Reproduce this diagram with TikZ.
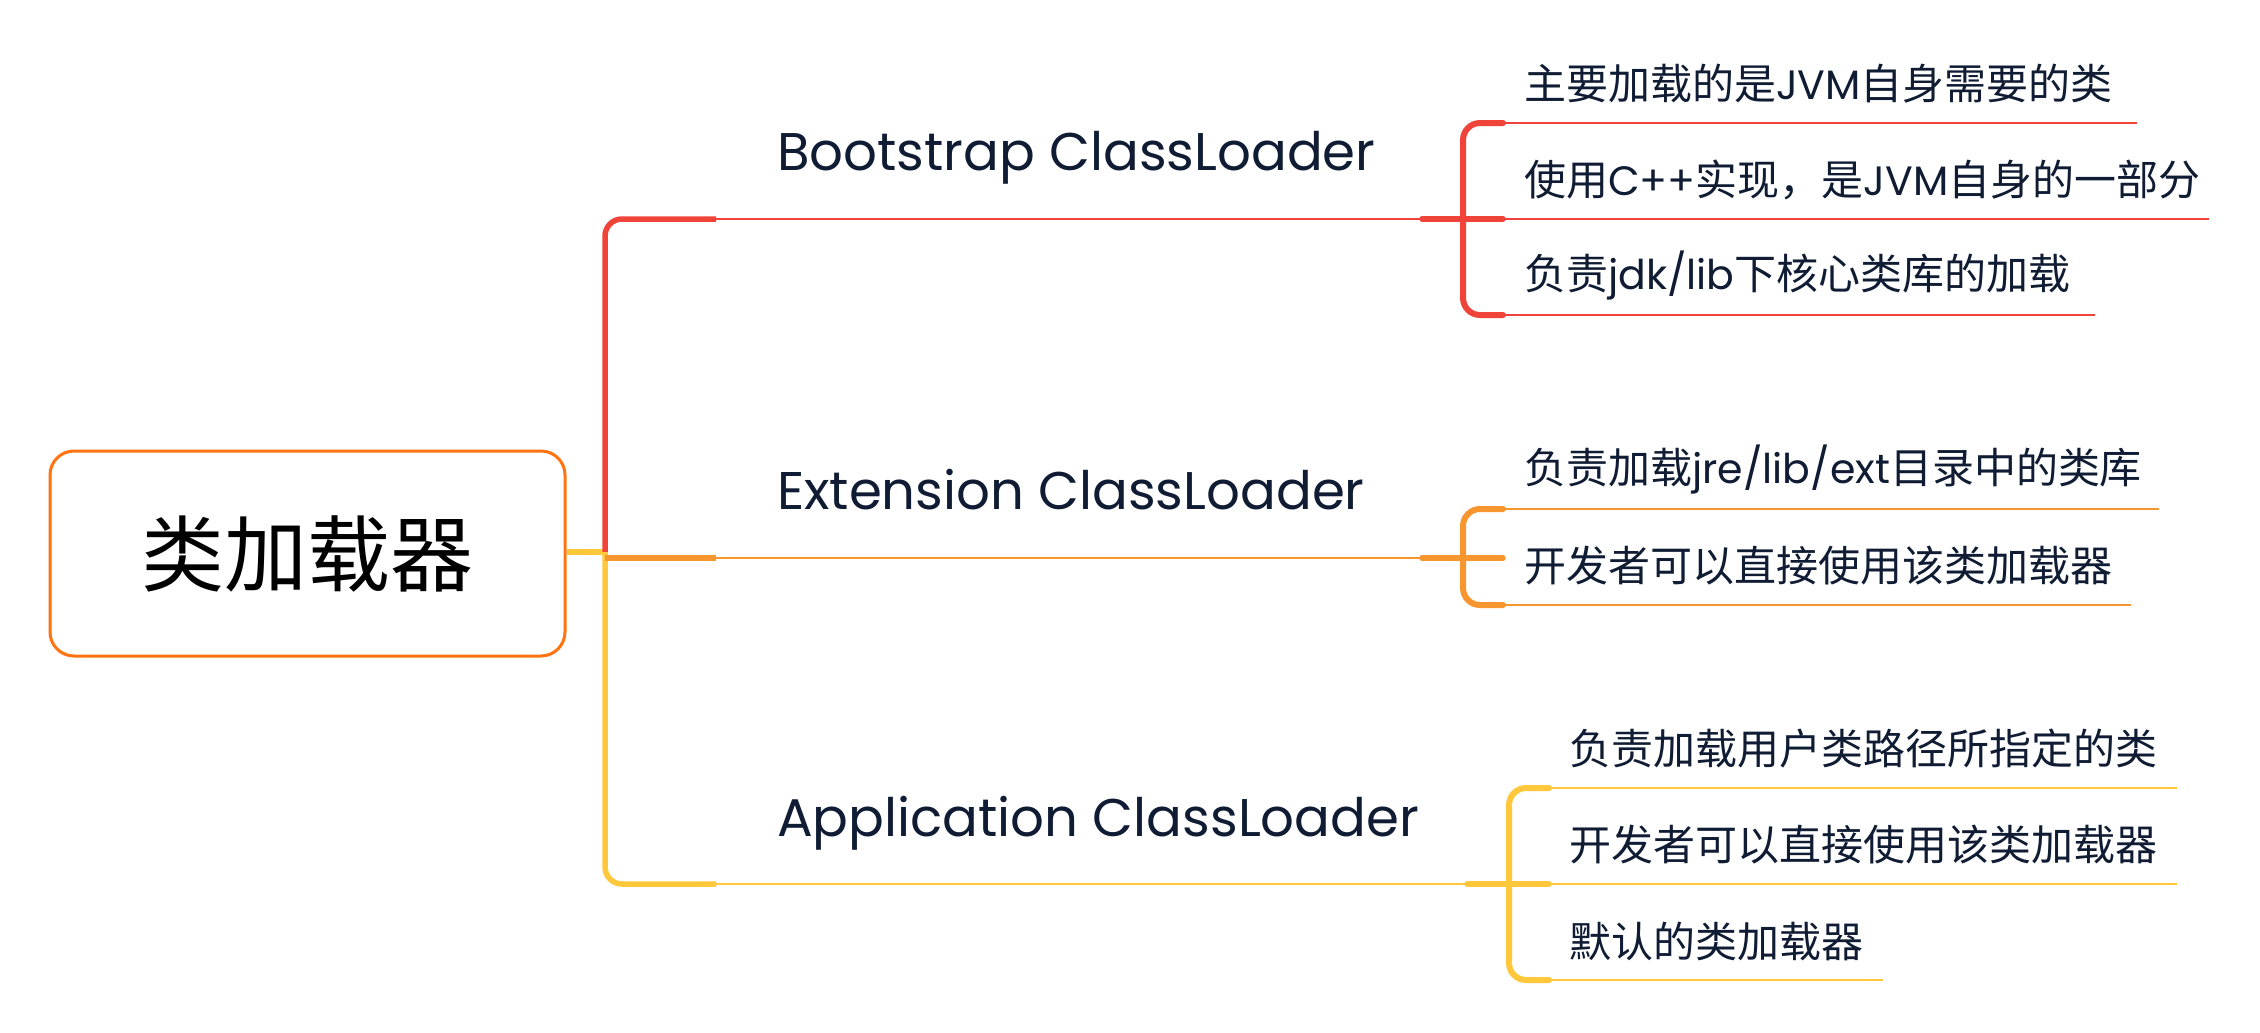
\documentclass[tikz,border=0pt]{standalone}
\usepackage{fontspec}
\setmainfont{Poppins}
\newfontfamily\cjk{Noto Sans CJK SC}
\newfontfamily\lat{Poppins}
\definecolor{cred}{HTML}{F0443A}
\definecolor{corange}{HTML}{F7962E}
\definecolor{cyellow}{HTML}{FFC73A}
\definecolor{cbox}{HTML}{FF7410}
\definecolor{ctext}{HTML}{0F1C33}
\begin{document}
\begin{tikzpicture}[x=1pt,y=-1pt,
  thickln/.style={line width=5.5pt,line cap=round},
  thinln/.style={line width=2.6pt},
  lvone/.style={anchor=base west,inner sep=0pt,text=ctext,font=\lat\fontsize{53}{62}\selectfont},
  item/.style={anchor=west,inner sep=0pt,text=ctext,font=\cjk\fontsize{42}{50}\selectfont},
  itemlat/.style={font=\lat\fontsize{41}{50}\selectfont},
  rootbox/.style={draw=cbox,line width=3pt,rounded corners=24pt,fill=white,minimum width=515pt,minimum height=205pt,inner sep=0pt,font=\cjk\fontsize{83}{100}\selectfont}]
\fill[white] (0,0) rectangle (2260,1033);
\useasboundingbox (0,0) rectangle (2260,1033);

% root
\node[rootbox] (root) at (307.5,553.5) {类加载器};

% trunk coordinates
\coordinate (T) at (605,552);
\coordinate (To) at (605,558);
\coordinate (Ra) at (716,219);
\coordinate (Oa) at (716,558);
\coordinate (Ya) at (716,884);
\coordinate (Rb) at (1422,219);
\coordinate (Ob) at (1422,558);
\coordinate (Yb) at (1467,884);

% level one branches
\draw[cyellow,line width=5.5pt] (root.east |- T) -- (T);
\draw[cred,line width=5.5pt,rounded corners=17pt] (T) |- (Ra);
\draw[cyellow,line width=5.5pt,rounded corners=17pt] (T) |- (Ya);
\draw[corange,line width=5.5pt] (To) -- (Oa);
\draw[cred,thinln] (Ra) -- (Rb);
\draw[corange,thinln] (Oa) -- (Ob);
\draw[cyellow,thinln] (Ya) -- (Yb);

\node[lvone] (b) at (777,170) {Bootstrap ClassLoader};
\node[lvone] (e) at (777,509) {Extension ClassLoader};
\node[lvone] (a) at (777,836) {Application ClassLoader};

% ---------- red group ----------
\coordinate (Rj) at (1503,219);
\coordinate (R1s) at (1503,123);
\coordinate (R3s) at (1503,315);
\coordinate (R1e) at (2137,123);
\coordinate (R2e) at (2209,219);
\coordinate (R3e) at (2095,315);
\draw[cred,thickln] (Rb) -- (Rj);
\draw[cred,line width=6pt,rounded corners=17pt,line cap=round] (R1s) -- (1463,123) -- (1463,315) -- (R3s);
\draw[cred,thinln] (R1s) -- (R1e);
\draw[cred,thinln] (Rj) -- (R2e);
\draw[cred,thinln] (R3s) -- (R3e);
\node[item] (r1) at (1524,84) {主要加载的是{\lat\fontsize{41}{50}\selectfont JVM}自身需要的类};
\node[item] (r2) at (1524,180) {使用{\lat\fontsize{41}{50}\selectfont C++}实现，是{\lat\fontsize{41}{50}\selectfont JVM}自身的一部分};
\node[item] (r3) at (1524,276) {负责{\lat\fontsize{41}{50}\selectfont jdk/lib}下核心类库的加载};

% ---------- orange group ----------
\coordinate (Oj) at (1503,558);
\coordinate (O1s) at (1503,509);
\coordinate (O2s) at (1503,605);
\coordinate (O1e) at (2159,509);
\coordinate (O2e) at (2131,605);
\draw[corange,thickln] (Ob) -- (Oj);
\draw[corange,line width=6pt,rounded corners=17pt,line cap=round] (O1s) -- (1463,509) -- (1463,605) -- (O2s);
\draw[corange,thinln] (O1s) -- (O1e);
\draw[corange,thinln] (O2s) -- (O2e);
\node[item] (o1) at (1524,470) {负责加载{\lat\fontsize{41}{50}\selectfont jre/lib/ext}目录中的类库};
\node[item] (o2) at (1524,566) {开发者可以直接使用该类加载器};

% ---------- yellow group ----------
\coordinate (Yj) at (1549,884);
\coordinate (Y1s) at (1549,788);
\coordinate (Y3s) at (1549,980);
\coordinate (Y1e) at (2177,788);
\coordinate (Y2e) at (2177,884);
\coordinate (Y3e) at (1883,980);
\draw[cyellow,thickln] (Yb) -- (Yj);
\draw[cyellow,line width=6pt,rounded corners=17pt,line cap=round] (Y1s) -- (1509,788) -- (1509,980) -- (Y3s);
\draw[cyellow,thinln] (Y1s) -- (Y1e);
\draw[cyellow,thinln] (Yj) -- (Y2e);
\draw[cyellow,thinln] (Y3s) -- (Y3e);
\node[item] (y1) at (1569,749) {负责加载用户类路径所指定的类};
\node[item] (y2) at (1569,845) {开发者可以直接使用该类加载器};
\node[item] (y3) at (1569,941) {默认的类加载器};
\end{tikzpicture}
\end{document}
